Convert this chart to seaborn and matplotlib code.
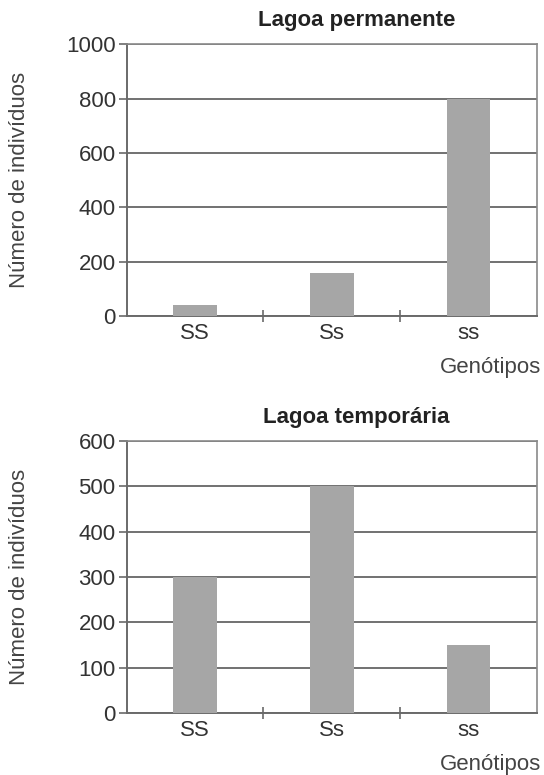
import seaborn as sns
import matplotlib.pyplot as plt
import pandas as pd

sns.set_style("white")
plt.rcParams['font.family'] = ['Liberation Sans', 'DejaVu Sans']

genotipos = ['SS', 'Ss', 'ss']
permanente = [40, 160, 800]
temporaria = [300, 500, 150]

fig = plt.figure(figsize=(5.44, 7.75), dpi=100)
ax1 = fig.add_axes([0.233, 0.592, 0.754, 0.351])
ax2 = fig.add_axes([0.233, 0.080, 0.754, 0.351])

panels = [
    (ax1, permanente, 'Lagoa permanente', range(0, 1001, 200), 1000),
    (ax2, temporaria, 'Lagoa temporária', range(0, 601, 100), 600),
]

fs = 16

for ax, vals, title, ticks, top in panels:
    df = pd.DataFrame({'gen': genotipos, 'n': vals})
    sns.barplot(data=df, x='gen', y='n', ax=ax, color='#a6a6a6',
                width=0.32, saturation=1, edgecolor='none', zorder=3)
    ax.set_ylim(0, top)
    ax.set_yticks(list(ticks))
    ax.set_xlim(-0.5, 2.5)
    ax.yaxis.grid(True, color='#4a4a4a', lw=1.1, zorder=0)
    ax.set_axisbelow(True)
    for s in ['top', 'right']:
        ax.spines[s].set_color('#8a8a8a')
        ax.spines[s].set_linewidth(1.2)
    for s in ['left', 'bottom']:
        ax.spines[s].set_color('#6a6a6a')
        ax.spines[s].set_linewidth(1.4)
    ax.set_xticks([0.5, 1.5], minor=True)
    ax.tick_params(axis='x', which='major', bottom=False, length=0, pad=5,
                   labelsize=fs, labelcolor='#333333')
    ax.tick_params(axis='x', which='minor', bottom=True, direction='inout',
                   length=8, width=1.2, color='#6a6a6a')
    ax.tick_params(axis='y', left=True, direction='out', length=6, width=1.2,
                   color='#6a6a6a', labelsize=fs, labelcolor='#333333', pad=2)
    ax.set_xlabel('')
    ax.set_ylabel('Número de indivíduos', fontsize=fs, color='#444444')
    ax.yaxis.set_label_coords(-0.235, 0.5)
    ax.set_title(title, fontsize=fs, fontweight='bold', color='#222222',
                 pad=13, x=0.56)
    ax.text(1.01, -0.19, 'Genótipos', transform=ax.transAxes, ha='right',
            va='center', fontsize=fs, color='#444444')

fig.savefig('out.png', dpi=100)
